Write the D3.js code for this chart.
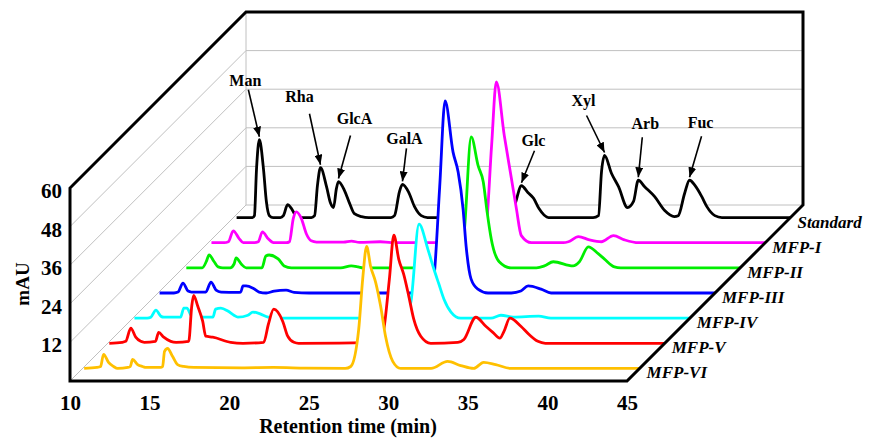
<!DOCTYPE html>
<html>
<head>
<meta charset="utf-8">
<script src="https://cdn.jsdelivr.net/npm/d3@7"></script>
<style>
  body { margin: 0; background: #fff; }
  svg text { font-family: "Liberation Serif", "Times New Roman", serif; font-weight: bold; }
</style>
</head>
<body>
<div id="chart"></div>
<script>
// series, back to front
const seriesNames = ['Standard', 'MFP-I', 'MFP-II', 'MFP-III', 'MFP-IV', 'MFP-V', 'MFP-VI'];
const seriesColors = ['#000000', '#ff00ff', '#00ee00', '#0000ff', '#00ffff', '#ff0000', '#ffc000'];

// [retention time (min), mAU]
const standard = [[10.2,0],[11.2,0],[11.32,0.6],[11.45,15],[11.63,24.2],[11.89,15],[12.07,5],[12.26,0.6],[12.5,0],
  [12.95,0],[13.14,0.6],[13.4,4],[13.65,2.8],[13.96,0.3],[14.3,0],
  [14.9,0],[15.1,0.6],[15.28,10],[15.47,15.5],[15.85,9.6],[16.1,4.5],[16.29,3.1],[16.47,9],[16.6,11.2],[16.98,8.4],[17.3,4.4],[17.6,1.2],[18.05,0.3],[18.5,0],
  [19.9,0],[20.12,0.6],[20.43,8],[20.62,10.3],[21.0,8],[21.38,3.4],[21.8,0.6],[22.2,0],
  [27.2,0],[27.66,3.7],[28.1,9.9],[28.5,7.8],[28.86,6],[29.2,2.8],[29.8,0],
  [32.6,0],[32.94,0.6],[33.13,14.3],[33.32,19.3],[33.76,13.7],[34.2,9.6],[34.76,3.1],[35.14,5],[35.44,11.6],[35.84,9.6],[36.47,6.5],[37.1,2.2],[37.7,0.3],
  [37.95,0.6],[38.35,7.5],[38.66,11.6],[39.0,10],[39.43,6.5],[39.75,3.4],[40.25,0.6],[40.7,0],[45,0]];
const mfp1 = [[10.2,0],[11.0,0],[11.26,0.3],[11.57,3.7],[11.95,1.2],[12.2,0],
  [12.9,0],[13.14,0.3],[13.4,3.4],[13.77,1.2],[14.1,0],
  [14.9,0],[15.1,0.3],[15.34,7.5],[15.53,9.6],[15.85,7.5],[16.16,2.8],[16.47,0.6],[16.8,0.2],
  [18.5,0.2],[19.0,0.5],[19.5,0.1],[20.8,0.3],[21.5,0],
  [27.2,0],[27.45,4],[27.8,30],[28.1,50],[28.6,33.3],[29.05,19.9],[29.36,10.6],[29.67,2.2],[30.3,0],
  [32.3,0],[32.63,0.3],[33.26,1.9],[33.95,0.9],[34.7,0.3],[35.46,2.2],[36.15,0.9],[37.03,0],[45,0]];
const mfp2 = [[10.2,0],[11.2,0],[11.45,1.9],[11.63,4],[11.95,1.9],[12.2,0.3],[12.5,0],
  [12.95,0],[13.2,1.2],[13.33,3.1],[13.65,1.2],[13.96,0],
  [14.95,0],[15.2,3.7],[15.4,4],[15.97,2.8],[16.35,0.6],[16.8,0],
  [19.9,0],[20.56,0.6],[21.0,0.3],[21.3,0],
  [27.2,0],[27.5,6],[27.66,11.2],[28.1,40.7],[28.54,31.7],[28.86,26.7],[29.1,17.4],[29.36,9],[29.86,1.9],[30.6,0],
  [32.2,0],[32.7,0.6],[33.26,1.9],[34.5,0.6],[34.9,1.9],[35.46,6.5],[36.08,4.4],[36.46,2.8],[37.1,0.3],[37.5,0],[45,0]];
const mfp3 = [[10.1,0],[11.0,0],[11.26,0.3],[11.57,3.1],[11.89,0.6],[12.1,0.3],
  [13.0,0.3],[13.33,3.4],[13.65,0.9],[13.96,0.3],
  [15.0,0.2],[15.2,0.3],[15.34,2.2],[15.53,2.2],[15.97,1.5],[16.35,0.3],[16.8,0],
  [17.3,0.6],[18.05,0.9],[18.55,0.2],[19.5,0],
  [27.0,0],[27.2,1],[27.35,5.3],[27.7,33],[28.04,59.7],[28.54,43.8],[28.86,37.6],[29.17,26.1],[29.36,14.6],[29.67,4.4],[30.1,1.2],[30.74,0],
  [32.2,0],[32.8,0.6],[33.26,2.2],[34.07,1.2],[34.7,0],[45,0]];
const mfp4 = [[10.1,0],[10.9,0],[11.13,0.3],[11.45,2.5],[11.76,0.6],[11.95,0.3],
  [13.0,0.3],[13.2,3.1],[13.4,3.1],[13.65,0.9],[13.77,0.3],
  [15.03,0.3],[15.2,2.8],[15.53,3.1],[15.97,2.2],[16.35,0.9],[16.6,0.3],
  [17.23,0.9],[17.54,1.9],[17.92,1.5],[18.5,0.3],[19.0,0],
  [27.0,0],[27.2,1],[27.47,5],[27.98,29.2],[28.54,21.4],[28.92,15.2],[29.23,10.6],[29.55,5.9],[29.99,1.9],[30.6,0],
  [32.5,0],[33.13,0.9],[33.9,0.3],[35.5,0.6],[36.27,0],[45,0]];
const mfp5 = [[10.1,0],[10.9,0.3],[11.13,0.6],[11.45,4.7],[11.76,1.9],[12.07,0.6],[12.3,0.3],
  [13.0,0.6],[13.2,3.4],[13.52,1.9],[13.96,0.6],[14.3,0.3],
  [15.09,0.6],[15.28,11.5],[15.4,14.9],[15.66,11.5],[15.97,6.8],[16.16,2.2],[16.6,1.9],[17.73,0.3],[18.5,0],
  [19.8,0.3],[20.1,6],[20.43,10.6],[21.0,6.8],[21.31,2.2],[21.7,0.3],[22.0,0],
  [27.1,0.3],[27.35,4.4],[27.7,20],[27.98,33.6],[28.29,26.1],[28.6,21.4],[28.92,14.6],[29.23,7.5],[29.67,2.2],[30.3,0],
  [32.0,0.3],[32.38,1.2],[33.13,8.1],[33.76,5.3],[34.2,3.4],[34.64,1.6],[34.9,3.7],[35.27,7.8],[35.96,5.3],[36.46,2.8],[37.03,0.6],[37.5,0],[45,0]];
const mfp6 = [[10.1,0],[10.9,0.3],[11.13,0.6],[11.32,4.4],[11.63,1.9],[11.95,0.6],[12.2,0],
  [12.85,0.3],[13.0,0.6],[13.14,2.8],[13.46,1.2],[13.77,0.6],[14.0,0.3],
  [14.9,0.3],[15.03,0.6],[15.15,5.3],[15.34,6.2],[15.66,3.7],[15.97,1.2],[16.35,0.6],[17.0,0.3],[20,0.2],[22,0.3],[24,0.1],
  [26.5,0],[26.85,0.6],[27.35,12.1],[27.6,27.7],[27.85,37.9],[28.1,31.7],[28.42,26.7],[28.73,19.3],[29.04,9.9],[29.49,2.2],[29.99,0],
  [31.9,0],[32.94,2.2],[33.76,0.9],[34.58,0],[35.2,1.9],[35.96,1.2],[36.9,0],[45,0]];
const seriesData = [standard, mfp1, mfp2, mfp3, mfp4, mfp5, mfp6];

const xTicks = [10, 15, 20, 25, 30, 35, 40, 45];
const yTicks = [12, 24, 36, 48, 60];

// monosaccharide standards marked on the Standard trace
const sugarNames = ['Man', 'Rha', 'GlcA', 'GalA', 'Glc', 'Xyl', 'Arb', 'Fuc'];
const sugarTimes = [11.63, 15.47, 16.6, 20.62, 28.1, 33.32, 35.44, 38.66];

const W = 874, H = 439;
const DEPTH = 176;
// [arrow tail dx, dy, label dx, dy] relative to arrow tip
const labelLayout = [[-11,-47,-14,-56],[-11,-51,-21,-68],[12,-43,16,-60],[4,-33,2,-43],
  [13,-32,12,-42],[-18,-37,-21,-52],[4,-40,7,-54],[12,-41,11,-55]];

const svg = d3.select('#chart').append('svg').attr('width', W).attr('height', H);

const x = d3.scaleLinear().domain([10, 45]).range([70, 627]);
const y = d3.scaleLinear().domain([0, 60]).range([381, 188]);
// depth: front series (MFP-VI) nearest
const z = d3.scaleBand().domain(seriesNames.slice().reverse()).range([0, DEPTH]);
const off = s => z(s) + z.bandwidth() / 2;

// grid on the walls
const grid = svg.append('g').attr('stroke', '#c0c0c0').attr('stroke-width', 1).attr('fill', 'none');
[0, 12, 24, 36, 48].forEach(v => {
    grid.append('line').attr('x1', x(10)).attr('y1', y(v)).attr('x2', x(10) + DEPTH).attr('y2', y(v) - DEPTH);
    grid.append('line').attr('x1', x(10) + DEPTH).attr('y1', y(v) - DEPTH).attr('x2', x(45) + DEPTH).attr('y2', y(v) - DEPTH);
});
grid.append('line').attr('x1', x(10) + DEPTH).attr('y1', y(0) - DEPTH).attr('x2', x(10) + DEPTH).attr('y2', y(60) - DEPTH);

// traces, back to front, white fill hides what is behind
const area = d3.area().x(d => x(d[0])).y0(y(0)).y1(d => y(d[1])).curve(d3.curveMonotoneX);
const line = d3.line().x(d => x(d[0])).y(d => y(d[1])).curve(d3.curveMonotoneX);

seriesNames.forEach((name, i) => {
    const g = svg.append('g').attr('transform', `translate(${off(name)},${-off(name)})`);
    g.append('path').attr('d', area(seriesData[i])).attr('fill', '#fff');
    g.append('path').attr('d', line(seriesData[i])).attr('fill', 'none')
        .attr('stroke', seriesColors[i]).attr('stroke-width', 2.8).attr('stroke-linejoin', 'round');
    g.append('text').attr('x', x(45) + 7).attr('y', y(0) + 10)
        .attr('font-size', 17).attr('font-style', 'italic').text(name);
});

// black frame
const frame = svg.append('g').attr('stroke', '#000').attr('stroke-width', 3).attr('fill', 'none')
    .attr('stroke-linejoin', 'miter');
frame.append('path').attr('d', `M${x(10)},${y(0)} V${y(60)} L${x(10) + DEPTH},${y(60) - DEPTH} H${x(45) + DEPTH} V${y(0) - DEPTH} L${x(45)},${y(0)} Z`);

// axes
const xAxis = svg.append('g').attr('transform', `translate(0,${y(0)})`)
    .call(d3.axisBottom(x).tickValues(xTicks).tickSize(0).tickPadding(14));
const yAxis = svg.append('g').attr('transform', `translate(${x(10)},0)`)
    .call(d3.axisLeft(y).tickValues(yTicks).tickSize(0).tickPadding(8));
[xAxis, yAxis].forEach(a => {
    a.select('.domain').remove();
    a.attr('font-family', null).attr('font-size', null);
    a.selectAll('text').attr('font-size', 21).attr('fill', '#000');
});
yAxis.selectAll('text').attr('dy', '0.45em');

svg.append('text').attr('x', 348).attr('y', 433).attr('text-anchor', 'middle')
    .attr('font-size', 20).text('Retention time (min)');
svg.append('text').attr('transform', 'translate(22,284) rotate(-90)').attr('text-anchor', 'middle')
    .attr('dy', '0.35em').attr('font-size', 19).text('mAU');

// annotations
svg.append('defs').append('marker').attr('id', 'arrow')
    .attr('markerUnits', 'userSpaceOnUse').attr('markerWidth', 10).attr('markerHeight', 8)
    .attr('refX', 10).attr('refY', 4).attr('orient', 'auto')
    .append('path').attr('d', 'M0,0 L10,4 L0,8 Z').attr('fill', '#000');

const stdOff = off('Standard');
sugarNames.forEach((name, i) => {
    const t = sugarTimes[i];
    const p = standard.reduce((a, b) => Math.abs(b[0] - t) < Math.abs(a[0] - t) ? b : a);
    const tipX = x(p[0]) + stdOff, tipY = y(p[1]) - stdOff - 3;
    const [tdx, tdy, ldx, ldy] = labelLayout[i];
    svg.append('line').attr('x1', tipX + tdx).attr('y1', tipY + tdy).attr('x2', tipX).attr('y2', tipY)
        .attr('stroke', '#000').attr('stroke-width', 1.6).attr('marker-end', 'url(#arrow)');
    svg.append('text').attr('x', tipX + ldx).attr('y', tipY + ldy).attr('dy', '0.35em')
        .attr('text-anchor', 'middle').attr('font-size', 16).text(name);
});
</script>
</body>
</html>
